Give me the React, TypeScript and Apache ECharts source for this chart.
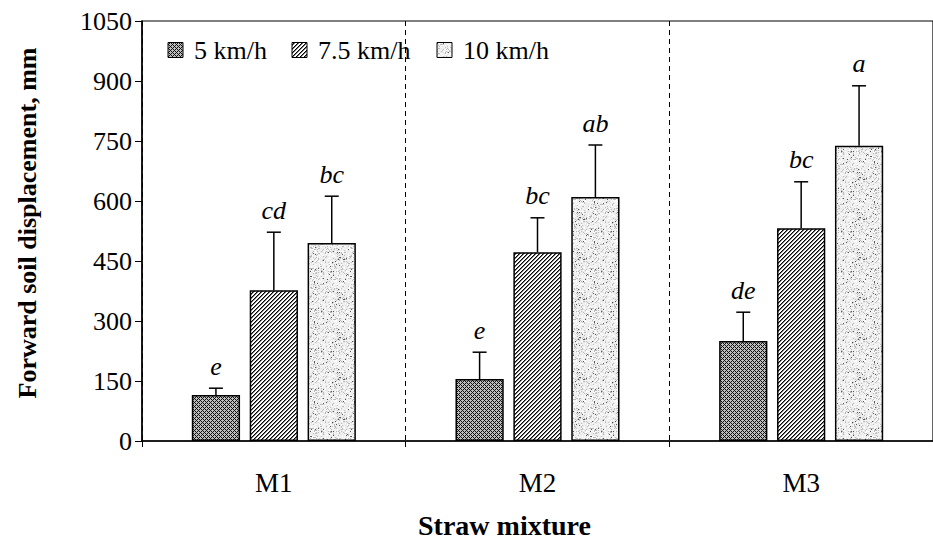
import React, { useEffect, useRef } from "react";
import * as echarts from "echarts";

const categories = ["M1", "M2", "M3"];
const speeds = ["5 km/h", "7.5 km/h", "10 km/h"];
const mean5 = [115, 155, 250];
const err5 = [17, 67, 72];
const mean75 = [377, 472, 532];
const err75 = [145, 86, 116];
const mean10 = [495, 610, 738];
const err10 = [117, 130, 150];
const letters5 = ["e", "e", "de"];
const letters75 = ["cd", "bc", "bc"];
const letters10 = ["bc", "ab", "a"];
const yMin = 0;
const yMax = 1050;
const yStep = 150;

const SERIF = "Liberation Serif";

function makePattern(kind: string) {
  const size = kind === "dots" ? 40 : 4;
  const c = document.createElement("canvas");
  c.width = size;
  c.height = size;
  const g = c.getContext("2d")!;
  g.fillStyle = "#fff";
  g.fillRect(0, 0, size, size);
  if (kind === "cross") {
    for (let y = 0; y < size; y++) {
      for (let x = 0; x < size; x++) {
        const a = (x + y) % 4 === 0;
        const b = (x - y + 8) % 4 === 0;
        g.fillStyle = a || b ? "#111" : "#bdbdbd";
        g.fillRect(x, y, 1, 1);
      }
    }
  } else if (kind === "diag") {
    for (let y = 0; y < size; y++) {
      for (let x = 0; x < size; x++) {
        const m = (x + y) % 4;
        g.fillStyle = m === 0 ? "#000" : m === 1 ? "#777" : "#fff";
        g.fillRect(x, y, 1, 1);
      }
    }
  } else {
    g.fillStyle = "#ececec";
    g.fillRect(0, 0, size, size);
    let s = 12345;
    const rnd = () => {
      s = (s * 1103515245 + 12345) % 2147483648;
      return s / 2147483648;
    };
    for (let y = 0; y < size; y++) {
      for (let x = 0; x < size; x++) {
        const r = rnd();
        if (r < 0.025) {
          g.fillStyle = "#555";
          g.fillRect(x, y, 1, 1);
        } else if (r < 0.17) {
          g.fillStyle = "#bababa";
          g.fillRect(x, y, 1, 1);
        } else if (r < 0.45) {
          g.fillStyle = "#fcfcfc";
          g.fillRect(x, y, 1, 1);
        }
      }
    }
  }
  return {
    image: c.toDataURL(),
    repeat: "repeat",
    imageWidth: size,
    imageHeight: size,
  } as any;
}

export default function App() {
  const ref = useRef<HTMLDivElement>(null);

  useEffect(() => {
    document.body.style.margin = "0";
    const chart = echarts.init(ref.current!, null, { renderer: "svg" });
    const patterns = [makePattern("cross"), makePattern("diag"), makePattern("dots")];
    const means = [mean5, mean75, mean10];
    const errs = [err5, err75, err10];
    const letters = [letters5, letters75, letters10];
    const BW = 0.183;
    const GAP = 0.2;

    const barSeries = speeds.map((name, i) => ({
      name,
      type: "bar",
      data: means[i],
      barWidth: BW * 100 + "%",
      barGap: GAP * 100 + "%",
      itemStyle: { color: patterns[i], borderColor: "#000", borderWidth: 1.5 },
      z: 2,
    }));

    const errSeries = speeds.map((name, i) => ({
      name: "err" + i,
      type: "custom",
      z: 5,
      data: categories.map((c, j) => [j, means[i][j], errs[i][j]]),
      renderItem: (params: any, api: any) => {
        const j = api.value(0);
        const m = api.value(1);
        const e = api.value(2);
        const base = api.coord([j, m]);
        const top = api.coord([j, m + e]);
        const catW = api.size([1, 0])[0];
        const bw = catW * BW;
        const x = base[0] + (i - 1) * bw * (1 + GAP);
        const capHalf = 7;
        const children: any[] = [
          {
            type: "line",
            shape: { x1: x, y1: base[1], x2: x, y2: top[1] },
            style: { stroke: "#000", lineWidth: 1.5 },
          },
          {
            type: "line",
            shape: { x1: x - capHalf, y1: top[1], x2: x + capHalf, y2: top[1] },
            style: { stroke: "#000", lineWidth: 1.5 },
          },
          {
            type: "text",
            x: x,
            y: top[1] - 9,
            style: {
              text: letters[i][params.dataIndex],
              fontFamily: SERIF,
              fontStyle: "italic",
              fontSize: 26,
              fill: "#000",
              align: "center",
              verticalAlign: "bottom",
            },
          },
        ];
        // legend entry drawn once per series (first category only)
        if (params.dataIndex === 0) {
          const lx = [168, 292, 437][i];
          const ly = 50;
          children.push({
            type: "rect",
            shape: { x: lx, y: ly - 7.5, width: 15, height: 15 },
            style: { fill: patterns[i], stroke: "#000", lineWidth: 1 },
          });
          children.push({
            type: "text",
            x: lx + 26,
            y: ly,
            style: {
              text: speeds[i],
              fontFamily: SERIF,
              fontSize: 26,
              fill: "#000",
              align: "left",
              verticalAlign: "middle",
            },
          });
        }
        return { type: "group", children };
      },
    }));

    chart.setOption({
      animation: false,
      backgroundColor: "#fff",
      textStyle: { fontFamily: SERIF, color: "#000" },
      grid: {
        left: 142,
        top: 21,
        width: 803,
        height: 420,
        show: true,
        borderColor: "#000",
        borderWidth: 1.2,
        backgroundColor: "transparent",
      },
      xAxis: {
        type: "category",
        data: categories,
        name: "Straw mixture",
        nameLocation: "middle",
        nameGap: 70,
        nameTextStyle: {
          fontFamily: SERIF,
          fontSize: 28,
          fontWeight: "bold",
          color: "#000",
          padding: [0, 66, 0, 0],
        },
        axisLine: { lineStyle: { color: "#000", width: 1.5 } },
        axisTick: { show: true, length: 6, lineStyle: { color: "#000", width: 1 } },
        axisLabel: {
          fontFamily: SERIF,
          fontSize: 27,
          color: "#000",
          margin: 28,
        },
        splitLine: {
          show: true,
          lineStyle: { color: "#000", type: [5, 4], width: 1 },
        },
      },
      yAxis: {
        type: "value",
        min: yMin,
        max: yMax,
        interval: yStep,
        name: "Forward soil displacement, mm",
        nameLocation: "middle",
        nameGap: 102,
        nameTextStyle: {
          fontFamily: SERIF,
          fontSize: 26,
          fontWeight: "bold",
          color: "#000",
          padding: [0, 0, 0, 16],
        },
        axisLine: { show: true, lineStyle: { color: "#000", width: 1.5 } },
        axisTick: { show: true, length: 7, lineStyle: { color: "#000", width: 1 } },
        axisLabel: {
          fontFamily: SERIF,
          fontSize: 26,
          color: "#000",
          margin: 10,
          formatter: (v: number) => String(v),
        },
        splitLine: { show: false },
      },
      series: [...barSeries, ...errSeries],
    } as any);
    return () => chart.dispose();
  }, []);

  return <div ref={ref} style={{ width: 933, height: 546 }} />;
}
